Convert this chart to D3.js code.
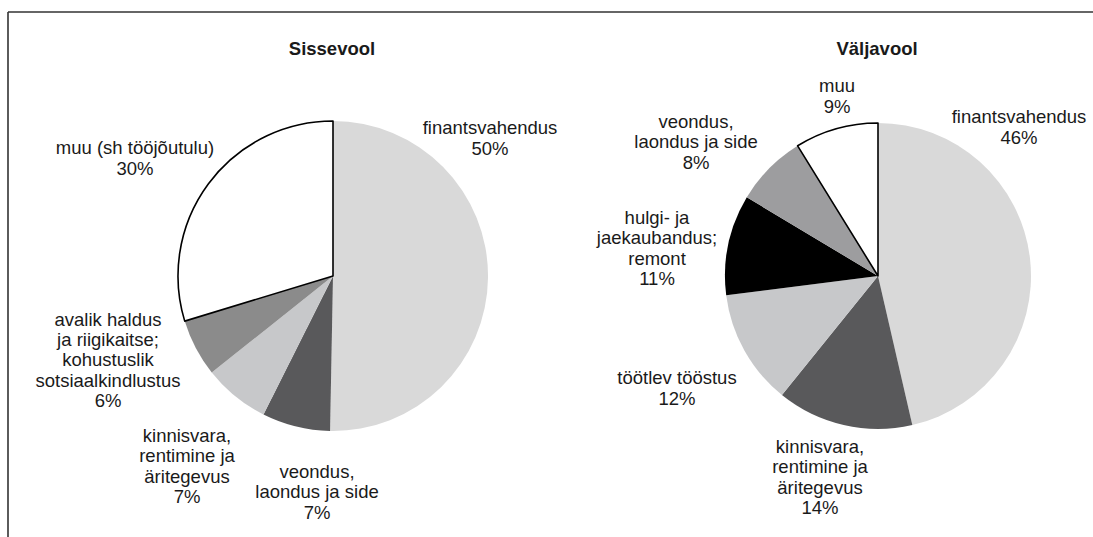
<!DOCTYPE html>
<html>
<head>
<meta charset="utf-8">
<script src="https://cdn.jsdelivr.net/npm/d3@7"></script>
<style>
  body { margin: 0; background: #fff; }
  svg { display: block; }
  text { font-family: Arial, "Liberation Sans", sans-serif; fill: #1a1a1a; }
</style>
</head>
<body>
<svg id="chart"></svg>
<script>
// pie data, clockwise from 12 o'clock
var inTitle = "Sissevool";
var inCategories = ["finantsvahendus", "veondus,\nlaondus ja side", "kinnisvara,\nrentimine ja\näritegevus",
  "avalik haldus\nja riigikaitse;\nkohustuslik\nsotsiaalkindlustus", "muu (sh tööjõutulu)"];
var inValues = [50.3, 7.1, 6.9, 6.0, 29.7];

var outTitle = "Väljavool";
var outCategories = ["finantsvahendus", "kinnisvara,\nrentimine ja\näritegevus", "töötlev tööstus",
  "hulgi- ja\njaekaubandus;\nremont", "veondus,\nlaondus ja side", "muu"];
var outValues = [46.4, 14.4, 12.2, 10.6, 7.6, 8.8];

// slice colours
var inColors = ["#d9d9d9", "#59595b", "#c7c8ca", "#8b8b8b", "#ffffff"];
var outColors = ["#d9d9d9", "#59595b", "#c7c8ca", "#000000", "#9d9d9f", "#ffffff"];

// label block centres relative to pie centre
var inLabelPos = [[157, -138], [-16, 216], [-146, 190], [-225, 84], [-198, -118]];
var outLabelPos = [[141, -149], [-58, 201], [-201, 112], [-221, -28], [-182, -134], [-41, -180]];

var width = 1093, height = 537;
var fontSize = 18.5, lineH = 20.4;

var svg = d3.select("#chart").attr("width", width).attr("height", height);

//frame (only top and left edges visible)
svg.append("line").attr("x1", 8).attr("y1", 12).attr("x2", width).attr("y2", 12)
  .attr("stroke", "#333").attr("stroke-width", 1.6);
svg.append("line").attr("x1", 8).attr("y1", 12).attr("x2", 8).attr("y2", height)
  .attr("stroke", "#333").attr("stroke-width", 1.6);

drawPie(inTitle, inCategories, inValues, inColors, inLabelPos, 333, 276, 155);
drawPie(outTitle, outCategories, outValues, outColors, outLabelPos, 878, 276, 153);

function drawPie(title, cats, vals, colors, labelPos, cx, cy, r) {
  var g = svg.append("g").attr("transform", "translate(" + cx + "," + cy + ")");

  var pie = d3.pie().sort(null).value(function(d) { return d; });
  var arc = d3.arc().innerRadius(0).outerRadius(r);
  var arcs = pie(vals);

  //gray slices first, white outlined slice on top
  g.selectAll("path")
    .data(arcs)
    .enter().append("path")
    .attr("d", arc)
    .attr("fill", function(d, i) { return colors[i]; })
    .attr("stroke", function(d, i) { return colors[i] == "#ffffff" ? "#000" : "none"; })
    .attr("stroke-width", 1.6)
    .attr("stroke-linejoin", "round");
  g.selectAll("path").filter(function(d, i) { return colors[i] == "#ffffff"; }).raise();

  //title
  g.append("text")
    .attr("x", -1)
    .attr("y", 55 - cy)
    .attr("text-anchor", "middle")
    .attr("font-size", fontSize)
    .attr("font-weight", "bold")
    .text(title);

  //labels
  arcs.forEach(function(d, i) {
    var lines = cats[i].split("\n");
    lines.push(Math.round(vals[i]) + "%");
    var y0 = labelPos[i][1] - (lines.length - 1) * lineH / 2;
    var t = g.append("text")
      .attr("text-anchor", "middle")
      .attr("font-size", fontSize);
    lines.forEach(function(line, k) {
      t.append("tspan")
        .attr("x", labelPos[i][0])
        .attr("y", y0 + k * lineH)
        .attr("dy", "0.35em")
        .text(line);
    });
  });
}
</script>
</body>
</html>
